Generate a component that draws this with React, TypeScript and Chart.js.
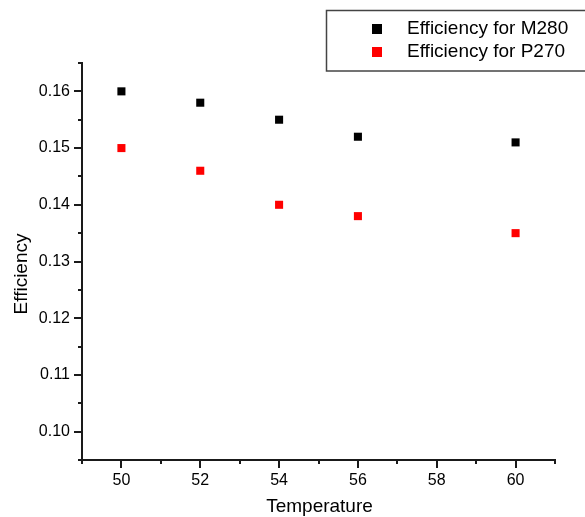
import React, { useEffect, useRef } from 'react';
import { Chart, registerables } from 'chart.js';

Chart.register(...registerables);

// ---- data ----
const temperatures = [50, 52, 54, 56, 60];
const effM280 = [0.16, 0.158, 0.155, 0.152, 0.151];
const effP270 = [0.15, 0.146, 0.14, 0.138, 0.135];
const seriesLabels = ['Efficiency for M280', 'Efficiency for P270'];
const seriesColors = ['#000000', '#ff0000'];
const xTickLabels = ['50', '52', '54', '56', '58', '60'];
const yTickLabels = ['0.10', '0.11', '0.12', '0.13', '0.14', '0.15', '0.16'];
const xRange = [49, 61];
const yRange = [0.095, 0.165];
const xTitle = 'Temperature';
const yTitle = 'Efficiency';

const FONT = '"Liberation Sans", Arial, Helvetica, sans-serif';
const AXIS_COLOR = '#1a1a1a';

const rnd = (v: number) => Math.round(v * 1e6) / 1e6;

function makeTicks(majors: number[], min: number, max: number): number[] {
  const step = (majors[1] - majors[0]) / 2;
  let start = majors[0];
  while (start - step >= min - 1e-9) start -= step;
  const out: number[] = [];
  for (let v = start; v <= max + 1e-9; v += step) out.push(rnd(v));
  return out;
}

const xMajor = xTickLabels.map(Number);
const yMajor = yTickLabels.map(Number);
const xTicks = makeTicks(xMajor, xRange[0], xRange[1]);
const yTicks = makeTicks(yMajor, yRange[0], yRange[1]);

const labelFor = (v: number, majors: number[], labels: string[]) => {
  const i = majors.findIndex((m) => Math.abs(m - v) < 1e-9);
  return i >= 0 ? labels[i] : '';
};

const decorPlugin = {
  id: 'decor',
  afterDraw(chart: any) {
    const ctx = chart.ctx as CanvasRenderingContext2D;
    const xs = chart.scales.x;
    const ys = chart.scales.y;
    const area = chart.chartArea;
    ctx.save();
    // tick marks (major + minor), outward
    ctx.strokeStyle = AXIS_COLOR;
    ctx.lineWidth = 2;
    ctx.beginPath();
    xTicks.forEach((v) => {
      const px = Math.round(xs.getPixelForValue(v));
      const len = labelFor(v, xMajor, xTickLabels) ? 8 : 4;
      ctx.moveTo(px, area.bottom);
      ctx.lineTo(px, area.bottom + len);
    });
    yTicks.forEach((v) => {
      const py = Math.round(ys.getPixelForValue(v));
      const len = labelFor(v, yMajor, yTickLabels) ? 8 : 4;
      ctx.moveTo(area.left, py);
      ctx.lineTo(area.left - len, py);
    });
    ctx.stroke();

    // axis titles
    ctx.fillStyle = '#000';
    ctx.font = `19px ${FONT}`;
    ctx.textAlign = 'center';
    ctx.textBaseline = 'alphabetic';
    ctx.fillText(xTitle, (area.left + area.right) / 2 + 1, 512);
    ctx.save();
    ctx.translate(27, 274);
    ctx.rotate(-Math.PI / 2);
    ctx.fillText(yTitle, 0, 0);
    ctx.restore();

    // legend
    ctx.strokeStyle = '#444';
    ctx.lineWidth = 1.5;
    ctx.strokeRect(326.5, 10.5, 300, 60.5);
    ctx.font = `19px ${FONT}`;
    ctx.textAlign = 'left';
    chart.data.datasets.forEach((ds: any, i: number) => {
      const cy = 29 + i * 23;
      ctx.fillStyle = ds.backgroundColor;
      ctx.fillRect(372, cy - 5, 10, 10);
      ctx.fillStyle = '#000';
      ctx.fillText(ds.label, 407, cy + 5);
    });
    ctx.restore();
  },
};

export default function App() {
  const ref = useRef<HTMLCanvasElement | null>(null);

  useEffect(() => {
    document.body.style.margin = '0';
    const canvas = ref.current;
    if (!canvas) return;
    const mk = (vals: number[]) => temperatures.map((t, i) => ({ x: t, y: vals[i] }));
    const chart = new Chart(canvas, {
      type: 'scatter',
      data: {
        datasets: [effM280, effP270].map((vals, i) => ({
          label: seriesLabels[i],
          data: mk(vals),
          backgroundColor: seriesColors[i],
          borderColor: seriesColors[i],
          pointStyle: 'rect',
          pointRadius: 5.7,
          pointBorderWidth: 0,
          showLine: false,
        })),
      },
      options: {
        responsive: false,
        animation: false,
        devicePixelRatio: 1,
        layout: { padding: { left: 0, top: 63, right: 30, bottom: 0 } },
        plugins: { legend: { display: false }, tooltip: { enabled: false }, title: { display: false } },
        scales: {
          x: {
            type: 'linear',
            position: 'bottom',
            min: xRange[0],
            max: xRange[1],
            afterFit: (s: any) => { s.height = 57; },
            afterBuildTicks: (s: any) => { s.ticks = xTicks.map((v) => ({ value: v })); },
            ticks: {
              autoSkip: false,
              maxRotation: 0,
              padding: 3,
              color: '#000',
              font: { family: FONT, size: 16 },
              callback: (v: any) => labelFor(Number(v), xMajor, xTickLabels),
            },
            grid: { display: true, drawOnChartArea: false, drawTicks: true, tickLength: 8, tickColor: 'rgba(0,0,0,0)' },
            border: { display: true, color: AXIS_COLOR, width: 2 },
          },
          y: {
            type: 'linear',
            position: 'left',
            min: yRange[0],
            max: yRange[1],
            afterFit: (s: any) => { s.width = 82; },
            afterBuildTicks: (s: any) => { s.ticks = yTicks.map((v) => ({ value: v })); },
            ticks: {
              autoSkip: false,
              padding: 4,
              color: '#000',
              font: { family: FONT, size: 16 },
              callback: (v: any) => labelFor(Number(v), yMajor, yTickLabels),
            },
            grid: { display: true, drawOnChartArea: false, drawTicks: true, tickLength: 8, tickColor: 'rgba(0,0,0,0)' },
            border: { display: true, color: AXIS_COLOR, width: 2 },
          },
        },
      },
      plugins: [decorPlugin],
    } as any);
    return () => chart.destroy();
  }, []);

  return (
    <div style={{ position: 'absolute', left: 0, top: 0, width: 585, height: 517, background: '#fff' }}>
      <canvas ref={ref} width={585} height={517} style={{ display: 'block', width: 585, height: 517 }} />
    </div>
  );
}
